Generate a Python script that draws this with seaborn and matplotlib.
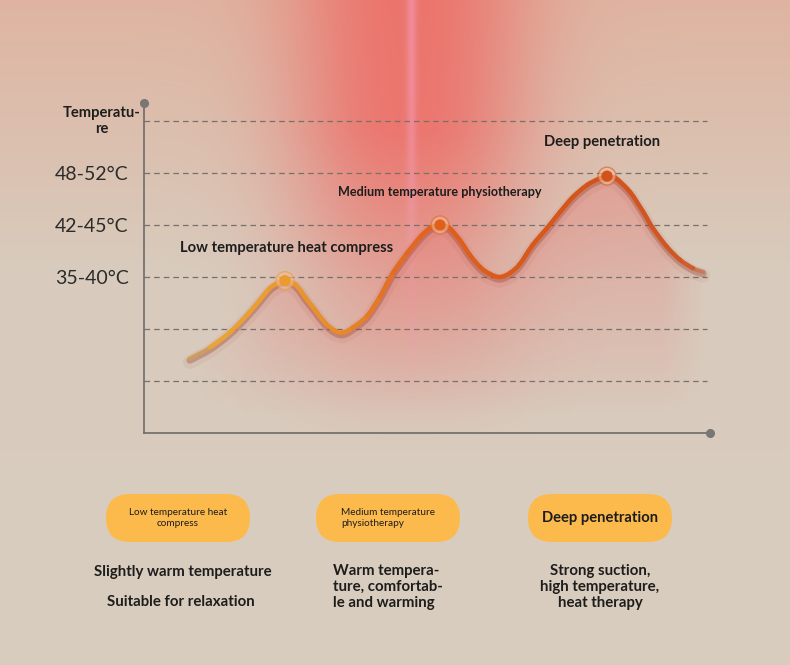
import numpy as np
import pandas as pd
import matplotlib
matplotlib.use("Agg")
import matplotlib.pyplot as plt
import matplotlib.transforms as mtrans
from matplotlib.collections import PatchCollection
from matplotlib.colors import LinearSegmentedColormap, to_rgba
from matplotlib.patches import FancyBboxPatch, PathPatch
from matplotlib.path import Path
import seaborn as sns

# ---------------- data ----------------
curve_x = [0.81, 1.17, 1.52, 1.82, 2.05, 2.23, 2.40, 2.49, 2.58, 2.67, 2.76, 2.84,
           3.02, 3.20, 3.37, 3.52, 3.69, 3.94, 4.17, 4.40, 4.65, 4.88, 5.05, 5.14,
           5.23, 5.32, 5.41, 5.58, 5.76, 5.94, 6.11, 6.29, 6.47, 6.64, 6.87, 7.12,
           7.35, 7.58, 7.83, 8.06, 8.18, 8.27, 8.36, 8.59, 8.82, 8.99, 9.24, 9.47,
           9.70, 9.88]
curve_y = [1.44, 1.65, 1.94, 2.27, 2.56, 2.79, 2.91, 2.93, 2.91, 2.86, 2.75, 2.62,
           2.37, 2.12, 1.97, 1.93, 2.03, 2.25, 2.62, 3.08, 3.46, 3.77, 3.94, 3.98,
           4.00, 3.98, 3.93, 3.71, 3.42, 3.19, 3.06, 3.00, 3.08, 3.25, 3.62, 3.94,
           4.25, 4.54, 4.77, 4.90, 4.94, 4.92, 4.88, 4.63, 4.25, 3.94, 3.58, 3.33,
           3.17, 3.10]

peak_x = [2.49, 5.23, 8.18]
peak_y = [2.93, 4.00, 4.94]
peak_labels = ["Low temperature heat compress",
               "Medium temperature physiotherapy",
               "Deep penetration"]
peak_colors = ["#EA9A2E", "#E0601A", "#D3521A"]

level_values = [3, 4, 5]
level_labels = ["35-40°C", "42-45°C", "48-52°C"]
grid_levels = [1, 2, 3, 4, 5, 6]
y_title = "Temperatu-\nre"

stage_titles = ["Low temperature heat\ncompress",
                "Medium temperature\nphysiotherapy",
                "Deep penetration"]
stage_desc = ["Slightly warm temperature",
              "Warm tempera-\nture, comfortab-\nle and warming",
              "Strong suction,\nhigh temperature,\nheat therapy"]
stage_note = "Suitable for relaxation"

# ---------------- style ----------------
sns.set_theme(style="white")
plt.rcParams['font.family'] = ['Lato', 'DejaVu Sans']
TXT = "#1d1d1d"

W, H = 790, 665
fig = plt.figure(figsize=(W / 100, H / 100), dpi=100)

# ---------------- background with red glow ----------------
bg = fig.add_axes([0, 0, 1, 1], zorder=0)
yy, xx = np.mgrid[0:H, 0:W].astype(float)
top = np.array(to_rgba('#DFB4A1')[:3])
bot = np.array(to_rgba('#D8CCBE')[:3])
t = np.clip(yy / 280.0, 0, 1)[..., None]
img = top * (1 - t) + bot * t
vert = np.clip((450 - yy) / 320.0, 0, 1) ** 1.1
band = np.exp(-(np.abs(xx - 408) / 120.0) ** 2.4)
a = 0.85 * band * vert
glow = np.array(to_rgba('#EE6A64')[:3])
img = img * (1 - a[..., None]) + glow * a[..., None]
core = np.exp(-((xx - 411) / 5.0) ** 2) * np.clip((420 - yy) / 330.0, 0, 1) * 0.5
pink = np.array(to_rgba('#F6A0C0')[:3])
img = img * (1 - core[..., None]) + pink * core[..., None]
bg.imshow(img, extent=[0, W, H, 0], interpolation='bilinear', aspect='auto')
bg.set_xlim(0, W)
bg.set_ylim(H, 0)
bg.axis('off')

# ---------------- chart axes ----------------
ymax = 330 / 52
ax = fig.add_axes([144 / W, (H - 433) / H, (710 - 144) / W, (433 - 103) / H], zorder=2)
ax.patch.set_visible(False)
ax.set_xlim(0, 10)
ax.set_ylim(0, ymax)

cx_arr = np.asarray(curve_x)
cy_arr = np.asarray(curve_y)

# smooth path through the read points (Catmull-Rom rendered as Bezier curves)
P = np.column_stack([cx_arr, cy_arr])
Pext = np.vstack([P[0], P, P[-1]])
seg_paths = []
verts = [P[0]]
codes = [Path.MOVETO]
for i in range(len(P) - 1):
    p0, p1, p2, p3 = Pext[i], Pext[i + 1], Pext[i + 2], Pext[i + 3]
    c1 = p1 + (p2 - p0) / 6.0
    c2 = p2 - (p3 - p1) / 6.0
    seg_paths.append(Path([p1, c1, c2, p2],
                          [Path.MOVETO, Path.CURVE4, Path.CURVE4, Path.CURVE4]))
    verts += [c1, c2, p2]
    codes += [Path.CURVE4] * 3
full_path = Path(verts, codes)

# pink area under the curve: soft gradient masked to the region below the curve
area_path = Path(verts + [(P[-1, 0], 0.0), (P[0, 0], 0.0), P[0]],
                 codes + [Path.LINETO, Path.LINETO, Path.CLOSEPOLY])
NY, NX = 330, 566
gyv = np.linspace(0, ymax, NY)
gxv = np.linspace(0, 10, NX)
GX, GY = np.meshgrid(gxv, gyv)
inside = area_path.contains_points(np.column_stack([GX.ravel(), GY.ravel()]))
inside = inside.reshape(NY, NX).astype(float)
alpha = (0.52 * np.clip((GY - 0.35) / 4.6, 0, 1) ** 0.85
         * np.clip((GX - 0.75) / 1.6, 0, 1) ** 0.8 * np.clip((9.95 - GX) / 0.8, 0, 1))
grad = np.zeros((NY, NX, 4))
grad[..., :3] = to_rgba('#E5847E')[:3]
grad[..., 3] = alpha * inside
ax.imshow(grad, extent=[0, 10, 0, ymax], origin='lower', aspect='auto',
          interpolation='bilinear', zorder=1)
ax.set_xlim(0, 10)
ax.set_ylim(0, ymax)

# dashed guide lines
ax.hlines(grid_levels, 0, 9.95, colors='#77706b', linestyles=(0, (4.5, 3.2)),
          linewidth=0.9, zorder=1.5)

# soft glow + shadow under the curve
df = pd.DataFrame({'x': curve_x, 'y': curve_y})
sns.lineplot(data=df, x='x', y='y', sort=False, color='#A0402A', alpha=0.07,
             lw=10, ax=ax, zorder=2.5,
             transform=mtrans.offset_copy(ax.transData, fig=fig, x=0, y=-4, units='dots'))
shadow_tr = mtrans.offset_copy(ax.transData, fig=fig, x=0, y=-2.2, units='dots')
ax.add_patch(PathPatch(full_path, facecolor='none', edgecolor='#8A3520', alpha=0.3,
                       lw=5.0, transform=shadow_tr, zorder=3, capstyle='round'))

# gradient-coloured curve
mid = (P[:-1, 0] + P[1:, 0]) / 2
cmap = LinearSegmentedColormap.from_list('heat', [
    (0.0, '#EEAC3E'), (0.25, '#EA9A2E'), (0.35, '#E88A28'), (0.44, '#E46E22'),
    (0.52, '#E0601A'), (0.82, '#D3521A'), (1.0, '#CF5A2A')])
cols = cmap(mid / 10)
cols[:, 3] = np.clip((mid - 0.8) / 0.5, 0.3, 1) * np.clip((9.95 - mid) / 0.4, 0.45, 1)
pc = PatchCollection([PathPatch(sp) for sp in seg_paths], facecolors='none',
                     edgecolors=cols, linewidths=3.2, capstyle='round',
                     joinstyle='round', zorder=4)
ax.add_collection(pc)

# peak markers
sns.scatterplot(x=peak_x, y=peak_y, color='#F3BE98', alpha=0.55, s=165,
                edgecolor=peak_colors, linewidth=1.0, ax=ax, zorder=5, legend=False)
sns.scatterplot(x=peak_x, y=peak_y, hue=peak_labels,
                palette=dict(zip(peak_labels, peak_colors)), s=65,
                edgecolor='none', ax=ax, zorder=6, legend=False)

# peak labels
ax.text(2.51, 3.56, peak_labels[0], ha='center', va='center', fontsize=10.6,
        weight='bold', color=TXT, zorder=7)
ax.text(5.22, 4.63, peak_labels[1], ha='center', va='center', fontsize=9.1,
        weight='bold', color=TXT, zorder=7)
ax.text(8.09, 5.60, peak_labels[2], ha='center', va='center', fontsize=10.6,
        weight='bold', color=TXT, zorder=7)

# axes styling
ax.set_xlim(0, 10)
ax.set_ylim(0, ymax)
ax.set_xticks([])
ax.set_yticks(level_values)
ax.set_yticklabels(level_labels, fontsize=14, color='#2b2b2b')
ax.tick_params(axis='y', length=0, pad=11)
ax.set_xlabel('')
ax.set_ylabel('')
for s in ['top', 'right']:
    ax.spines[s].set_visible(False)
for s in ['left', 'bottom']:
    ax.spines[s].set_color('#6f6b68')
    ax.spines[s].set_linewidth(1.2)
ax.plot([0], [ymax], 'o', ms=5.5, color='#7a7672', clip_on=False, zorder=6)
ax.plot([10], [0], 'o', ms=5.5, color='#7a7672', clip_on=False, zorder=6)

# y title
bg.text(102, 121, y_title, ha='center', va='center', fontsize=10.6,
        weight='bold', color=TXT, linespacing=1.1)

# ---------------- stage pills and descriptions ----------------
pill_cx = [178, 388, 600]
pill_fs = [7.2, 7.2, 10.6]
pill_wt = ['normal', 'normal', 'bold']
pill_align = ['center', 'left', 'center']
for cx, title, fs, wt, al in zip(pill_cx, stage_titles, pill_fs, pill_wt, pill_align):
    p = FancyBboxPatch((cx - 72, 494), 144, 48,
                       boxstyle='round,pad=0,rounding_size=24',
                       facecolor='#FCBA4C', edgecolor='none', zorder=2)
    bg.add_patch(p)
    bg.text(cx, 518, title, ha='center', va='center', multialignment=al,
            fontsize=fs, weight=wt, color=TXT, linespacing=1.3, zorder=3)

bg.text(183, 572, stage_desc[0], ha='center', va='center', fontsize=10.8,
        weight='bold', color=TXT)
bg.text(181, 602, stage_note, ha='center', va='center', fontsize=10.8,
        weight='bold', color=TXT)
bg.text(333, 587, stage_desc[1], ha='left', va='center', fontsize=10.8,
        weight='bold', color=TXT, linespacing=1.17)
bg.text(600, 587, stage_desc[2], ha='center', va='center', fontsize=10.8,
        weight='bold', color=TXT, linespacing=1.17)

fig.savefig('out.png', dpi=100)
